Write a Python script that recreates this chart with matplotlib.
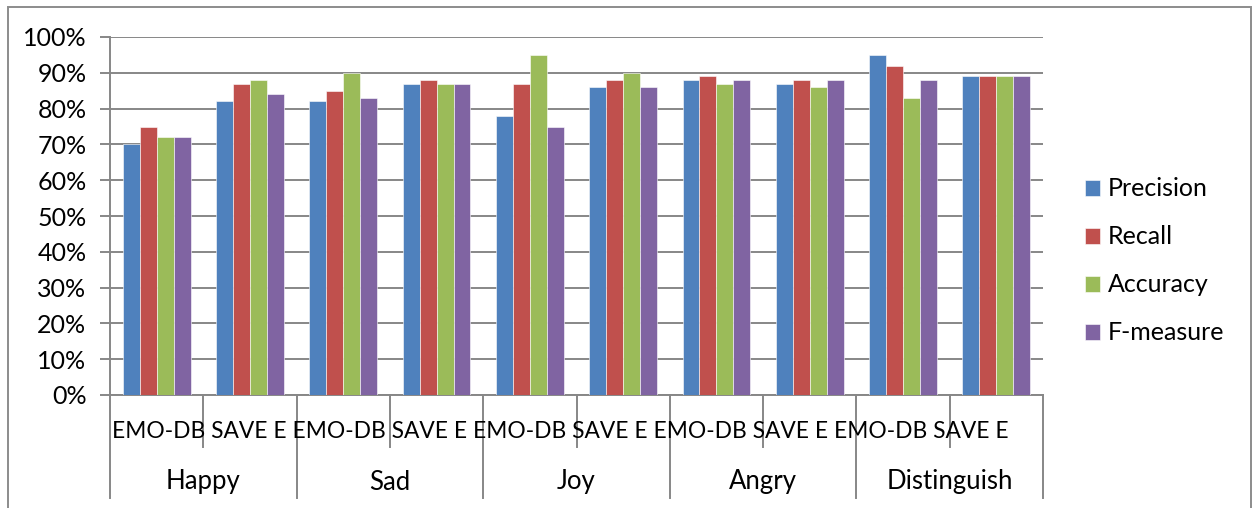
import matplotlib
matplotlib.use("Agg")
import matplotlib.pyplot as plt
import numpy as np
from matplotlib.patches import Rectangle

plt.rcParams['font.family'] = ['Lato', 'DejaVu Sans']

groups = ["Happy", "Sad", "Joy", "Angry", "Distinguish"]
datasets = ["EMO-DB", "SAVE E"]
series = ["Precision", "Recall", "Accuracy", "F-measure"]
colors = ["#4F81BD", "#C0504D", "#9BBB59", "#8064A2"]

# values (%) per subcategory: Happy EMO-DB, Happy SAVE E, Sad EMO-DB, ...
precision = [70, 82, 82, 87, 78, 86, 88, 87, 95, 89]
recall    = [75, 87, 85, 88, 87, 88, 89, 88, 92, 89]
accuracy  = [72, 88, 90, 87, 95, 90, 87, 86, 83, 89]
fmeasure  = [72, 84, 83, 87, 75, 86, 88, 88, 88, 89]
values = [precision, recall, accuracy, fmeasure]

W, H = 1253, 508
FS = 18
fig = plt.figure(figsize=(W / 100, H / 100), dpi=100)

# outer chart frame
fig.patches.append(Rectangle((8 / W, -0.05), (1251 - 8) / W, 1.05 - 7 / H,
                             transform=fig.transFigure, fill=False,
                             edgecolor="#8c8c8c", lw=1.4))

ax = fig.add_axes([110 / W, 1 - 395 / H, (1043 - 110) / W, (395 - 37) / H])
grid_c = "#878787"

n = len(precision)
x = np.arange(n) + 0.5
bw = 1 / 5.5
for i, (vals, c, name) in enumerate(zip(values, colors, series)):
    ax.bar(x + (i - 1.5) * bw, np.array(vals) / 100, width=bw, color=c,
           edgecolor="white", linewidth=0.4, label=name, zorder=3)

ax.set_xlim(0, n)
ax.set_ylim(0, 1)
ax.set_yticks(np.arange(0, 1.01, 0.1))
ax.set_yticklabels([f"{int(round(v * 100))}%" for v in np.arange(0, 1.01, 0.1)])
ax.yaxis.grid(True, color=grid_c, lw=1.4, zorder=0)
ax.tick_params(axis="y", length=7, width=1.4, color=grid_c, labelsize=FS, pad=10)
ax.tick_params(axis="x", length=0, labelbottom=False)
for s in ["top", "right"]:
    ax.spines[s].set_visible(False)
for s in ["left", "bottom"]:
    ax.spines[s].set_color(grid_c)
    ax.spines[s].set_linewidth(1.4)

# category separators below the axis
tr = ax.get_xaxis_transform()
sub_y, grp_y = -52 / 358, -103 / 358
for k in range(n + 1):
    yb = grp_y if k % 2 == 0 else sub_y
    ax.plot([k, k], [0, yb], transform=tr, color=grid_c, lw=1.4, clip_on=False)

# dataset labels run together as one line of text across the sub-categories
row = " ".join(datasets[k % 2] for k in range(n))
sub_txt = ax.text(0.002, -36 / 358, row, transform=ax.transAxes, ha="left",
                  va="center", fontsize=FS)
fig.canvas.draw()
w_px = sub_txt.get_window_extent().width
sub_txt.set_fontsize(FS * 891 / w_px)

for g, name in enumerate(groups):
    ax.text(2 * g + 1, -87 / 358, name, transform=tr, ha="center",
            va="center", fontsize=FS + 0.5)

leg = fig.legend(loc="center left", bbox_to_anchor=(1085 / W, 1 - 261 / H),
                 frameon=False, fontsize=FS, handlelength=0.6,
                 handleheight=0.6, handletextpad=0.32, labelspacing=1.0,
                 borderpad=0, borderaxespad=0)

fig.savefig("out.png", dpi=100)
